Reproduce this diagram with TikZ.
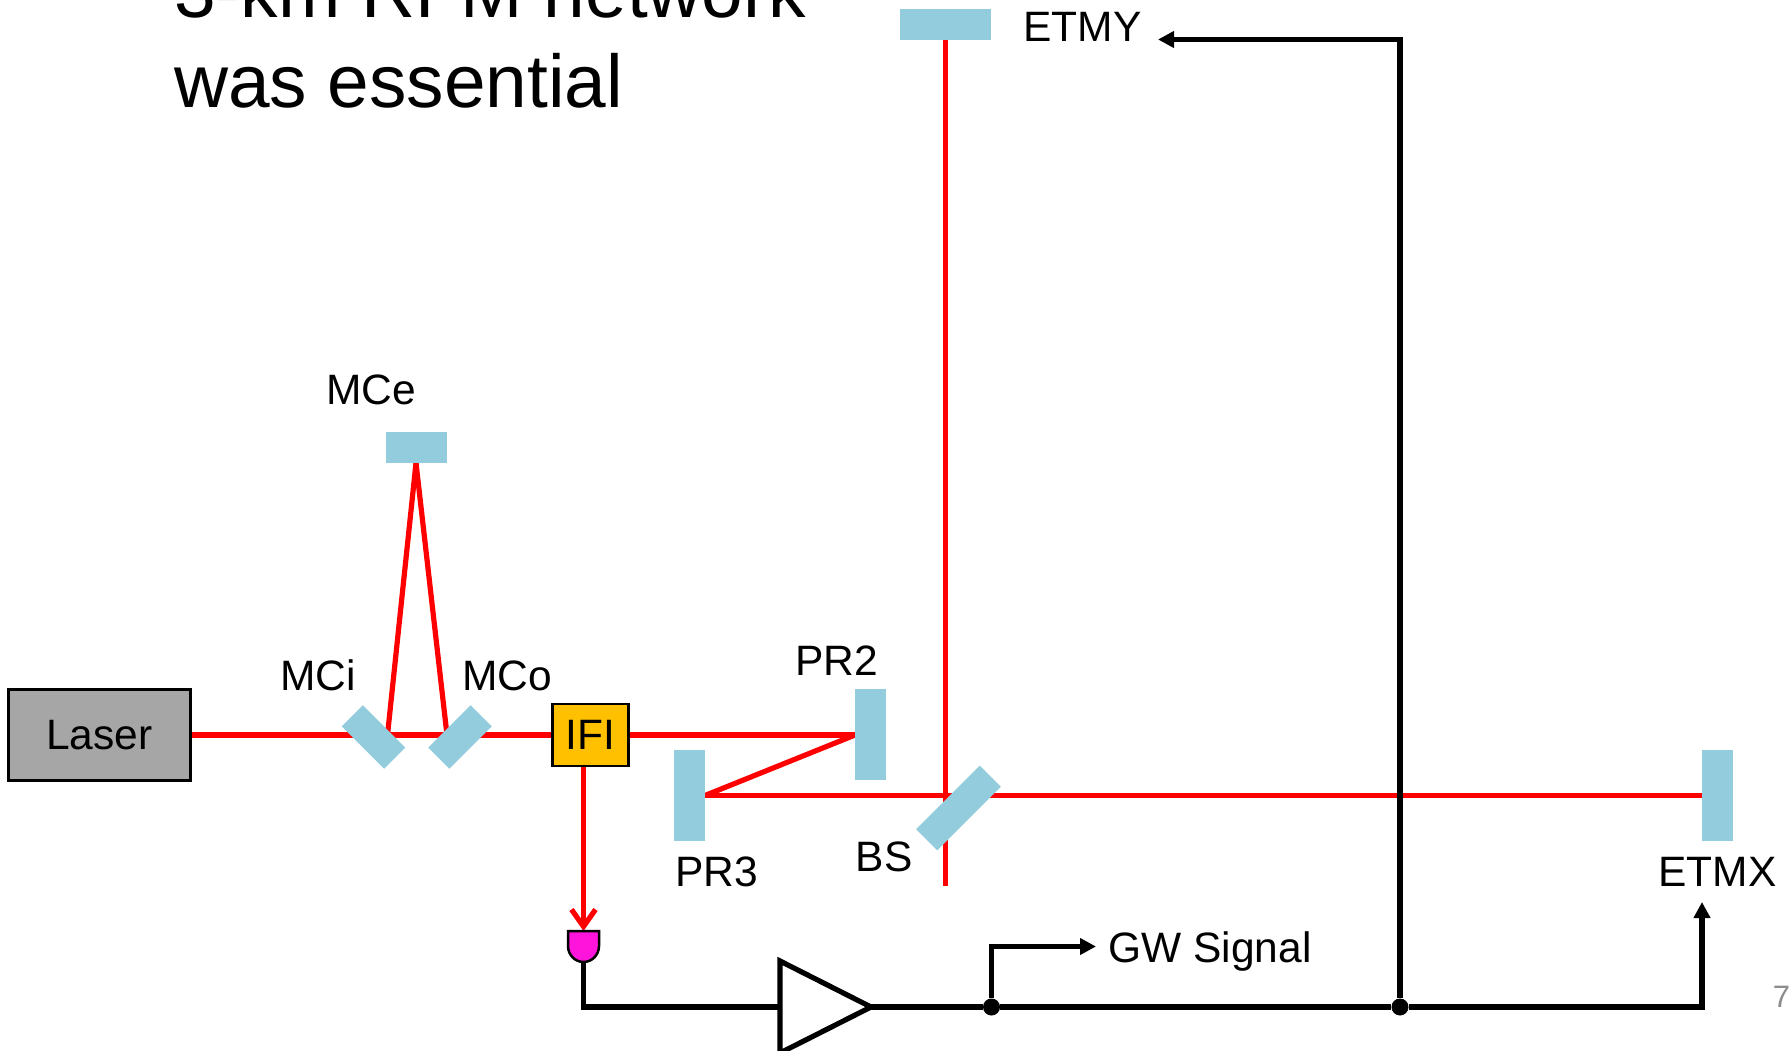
\documentclass[tikz,border=0pt]{standalone}
\usepackage{fontspec}
\setmainfont{Liberation Sans}
\usepackage{xcolor}
\usepackage{tikz}
\usetikzlibrary{arrows.meta, backgrounds, positioning, shapes.geometric}
\definecolor{mirrorblue}{HTML}{93CDDD}
\definecolor{beamred}{HTML}{FF0000}
\definecolor{isoyellow}{HTML}{FFC000}
\definecolor{lasergray}{HTML}{A6A6A6}
\definecolor{diodepink}{HTML}{FF14DC}
\tikzset{
    boxnode/.style = {draw, rectangle, line width=2.5pt, inner sep = 0pt, font=\fontsize{42.5}{50}\selectfont},
    mirrornode/.style = {fill=mirrorblue, rectangle, inner sep = 0pt, outer sep = 0pt},
    textnode/.style = {draw=none, fill=none, rectangle, inner sep = 0pt, anchor=base, font=\fontsize{42.5}{50}\selectfont},
    titlenode/.style = {draw=none, fill=none, rectangle, inner sep = 0pt, anchor=base west, font=\fontsize{74.8}{89}\selectfont},
    dotnode/.style = {draw=none, fill=black, circle, minimum size=17pt, inner sep = 0pt},
    beam/.style = {beamred, line width=5.2pt},
    wire/.style = {black, line width=5.2pt},
    connect/.style = {wire, -{Triangle[length=16pt,width=16pt]}},
    beamarrow/.style = {beam, -{Straight Barb[length=17pt,width=24pt]}}
}

\begin{document}
\begin{tikzpicture}[node distance=0pt]
    \useasboundingbox (-99.5pt,735pt) rectangle (1691.5pt,-315pt);

    \node [name=laser, boxnode, fill=lasergray, minimum width=182pt, minimum height=91pt] {Laser};
    \node [name=ifi, boxnode, fill=isoyellow, minimum width=76pt, minimum height=62pt,
        right of = laser, xshift=491pt] {IFI};

    \node [name=mci, mirrornode, minimum width=60pt, minimum height=30pt,
        right of = laser, xshift=274pt, yshift=-2pt, rotate=-45] {};
    \node [name=mco, mirrornode, minimum width=60pt, minimum height=30pt,
        right of = laser, xshift=360.5pt, yshift=-2pt, rotate=45] {};
    \node [name=mce, mirrornode, minimum width=61pt, minimum height=31pt,
        right of = laser, xshift=316.5pt, yshift=287.5pt] {};
    \node [name=pr2, mirrornode, minimum width=31pt, minimum height=91pt,
        right of = laser, xshift=771pt, yshift=0.5pt] {};
    \node [name=pr3, mirrornode, minimum width=31pt, minimum height=91pt,
        right of = laser, xshift=590pt, yshift=-60.5pt] {};
    \node [name=bs, mirrornode, minimum width=90pt, minimum height=30pt,
        right of = laser, xshift=859pt, yshift=-73pt, rotate=45] {};
    \node [name=etmx, mirrornode, minimum width=31pt, minimum height=91pt,
        right of = laser, xshift=1618pt, yshift=-60.5pt] {};
    \node [name=etmy, mirrornode, minimum width=91pt, minimum height=31pt,
        right of = laser, xshift=846pt, yshift=710.5pt] {};

    \node [name=mcilabel, right of = laser, textnode, xshift=218.5pt, yshift=44.3pt] {MCi};
    \node [name=mcolabel, right of = laser, textnode, xshift=407.8pt, yshift=44.3pt] {MCo};
    \node [name=mcelabel, right of = laser, textnode, xshift=271.5pt, yshift=330pt] {MCe};
    \node [name=pr2label, right of = laser, textnode, xshift=737pt, yshift=60pt] {PR2};
    \node [name=pr3label, right of = laser, textnode, xshift=617pt, yshift=-151.7pt] {PR3};
    \node [name=bslabel, right of = laser, textnode, xshift=784.5pt, yshift=-136pt] {BS};
    \node [name=etmxlabel, right of = laser, textnode, xshift=1618pt, yshift=-151pt] {ETMX};
    \node [name=etmylabel, right of = laser, textnode, xshift=983pt, yshift=693.5pt] {ETMY};
    \node [name=gwlabel, right of = laser, textnode, xshift=1110.5pt, yshift=-227.5pt] {GW Signal};
    \node [name=pagenum, right of = laser, textnode, xshift=1682pt, yshift=-272pt,
        text=black!45, font=\fontsize{31}{37}\selectfont] {7};

    \node [name=title1, right of = laser, titlenode, xshift=74.5pt, yshift=717pt] {3-km RFM network};
    \node [name=title2, right of = laser, titlenode, xshift=74.5pt, yshift=627pt] {was essential};
    \node [name=bullet, right of = laser, titlenode, xshift=4pt, yshift=720.5pt] {•};

    \coordinate [name=mcihit, right of = laser, xshift=288pt];
    \coordinate [name=mcohit, right of = laser, xshift=347.5pt];
    \coordinate [name=bsend, right of = laser, xshift=846pt, yshift=-151pt];
    \coordinate [name=gwtip, right of = laser, xshift=996.5pt, yshift=-211.5pt];
    \coordinate [name=etmytip, right of = laser, xshift=1058.5pt, yshift=695.5pt];
    \coordinate [name=etmxtip, right of = laser, xshift=1602.5pt, yshift=-167pt];

    \node [name=diode, minimum width=31pt, minimum height=31pt, inner sep=0pt, outer sep=0pt,
        right of = laser, xshift=484pt, yshift=-211.5pt] {};
    \node [name=amp, draw, isosceles triangle, isosceles triangle stretches, line width=5.2pt,
        minimum width=92pt, minimum height=91pt, inner sep=0pt, outer sep=0pt,
        right of = laser, anchor=west, xshift=680.5pt, yshift=-272pt] {};
    \node [name=gwdot, dotnode, right of = laser, xshift=892pt, yshift=-272pt] {};
    \node [name=etmydot, dotnode, right of = laser, xshift=1300.5pt, yshift=-272pt] {};

    \begin{scope}[on background layer]
        \draw [beam] (laser) -- (ifi);
        \draw [beam] (ifi) -- (ifi -| pr2.west);
        \draw [beam] (ifi -| pr2.west) -- (pr3.east);
        \draw [beam] (pr3.east) -- (etmx.west);
        \draw [beam] (etmy.south) -- (bsend);
        \draw [beam] (mcihit) -- (mce.south);
        \draw [beam] (mcohit) -- (mce.south);
    \end{scope}
    \draw [beamarrow] (diode.north |- ifi.south) -- (diode.north);

    \draw [black, fill=diodepink, line width=2.5pt] (diode.north west) -- (diode.north east) -- ++(0pt,-15pt)
        arc [start angle=0, end angle=-180, x radius=15.5pt, y radius=16pt] -- cycle;

    \draw [wire] (diode.south) |- (amp.west);
    \draw [wire] (amp.east) -- (gwdot);
    \draw [wire] (gwdot) -- (etmydot);
    \draw [connect] (gwdot) |- (gwtip);
    \draw [connect] (etmydot) |- (etmytip);
    \draw [connect] (etmydot) -| (etmxtip);
\end{tikzpicture}
\end{document}
